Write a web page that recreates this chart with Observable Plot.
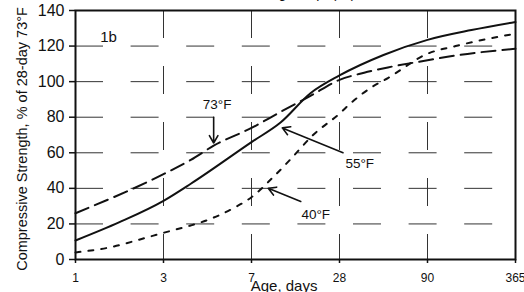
<!DOCTYPE html>
<html><head><meta charset="utf-8">
<script src="https://cdn.jsdelivr.net/npm/d3@7"></script>
<script src="https://cdn.jsdelivr.net/npm/@observablehq/plot@0.6"></script>
<style>
body{margin:0;background:#fff;}
#chart svg{font-family:Arial,"Liberation Sans",sans-serif;color:#111;}
</style>
</head><body><div id="chart"></div>
<script>
// Age axis: categories are evenly spaced; positions are indices along that axis
const ageLabels = ["1","3","7","28","90","365"];
const agePos = [0,1,2,3,4,5];
const strengthTicks = [0,20,40,60,80,100,120,140];
const gridY = [20,40,60,80,100,120];
const gridX = [1,2,3,4];

// 73°F (long dashes)
const pos73 = [0, 1, 1.31, 1.57, 2, 2.33, 2.67, 3, 3.28, 3.55, 4, 4.32, 5];
const val73 = [26, 48, 56, 64, 74, 83, 92, 101, 105, 108, 112, 114.7, 118.5];
// 55°F (solid)
const pos55 = [0, 0.5, 1, 1.31, 2, 2.33, 2.67, 3, 3.5, 4, 4.5, 5];
const val55 = [10.7, 21, 33, 42.6, 66, 77, 93.5, 103.5, 115, 123.5, 129, 133.5];
// 40°F (short dashes)
const pos40 = [0, 0.4, 0.77, 1, 1.3, 1.42, 1.8, 2, 2.23, 2.45, 2.7, 3, 3.13, 3.36, 3.55, 4, 4.32, 5];
const val40 = [4, 6.9, 11.8, 15, 19, 20.8, 29, 35, 45.5, 56.7, 70, 82, 88, 96.7, 102, 115.7, 120, 127];

const seriesLabels = ["73°F","55°F","40°F"];
const labelPos = [1.61, 3.23, 2.73];
const labelVal = [87, 54, 25];
const arrowFromPos = [1.57, 3.04, 2.56];
const arrowFromVal = [80, 60, 32.6];
const arrowToPos = [1.57, 2.35, 2.19];
const arrowToVal = [65.5, 74, 40];

const panelLabel = "1b";
const panelPos = 0.375;
const panelVal = 125;

const titleText = "Curing Temp, (°F)";
const xTitle = "Age, days";
const yTitle = "Compressive Strength, % of 28-day 73°F";

const toRows = (p, v) => p.map((x, i) => ({x, y: v[i]}));
const arrows = seriesLabels.map((s, i) => ({x1: arrowFromPos[i], y1: arrowFromVal[i], x2: arrowToPos[i], y2: arrowToVal[i]}));

const chart = Plot.plot({
  width: 524, height: 292,
  marginTop: 10, marginLeft: 75, marginRight: 9, marginBottom: 33,
  x: {type: "linear", domain: [0, 5]},
  y: {domain: [0, 140]},
  marks: [
    Plot.ruleY(gridY, {stroke: "#333", strokeWidth: 1, strokeDasharray: "28,27.6"}),
    Plot.ruleX(gridX, {stroke: "#333", strokeWidth: 1, strokeDasharray: "28,28"}),
    Plot.line(toRows(pos73, val73), {x: "x", y: "y", curve: "monotone-x", stroke: "#111", strokeWidth: 2, strokeDasharray: "14,7"}),
    Plot.line(toRows(pos55, val55), {x: "x", y: "y", curve: "monotone-x", stroke: "#111", strokeWidth: 2}),
    Plot.line(toRows(pos40, val40), {x: "x", y: "y", curve: "monotone-x", stroke: "#111", strokeWidth: 2, strokeDasharray: "5,8"}),
    Plot.arrow(arrows, {x1: "x1", y1: "y1", x2: "x2", y2: "y2", stroke: "#111", strokeWidth: 1.6, headLength: 8}),
    Plot.text(seriesLabels, {x: labelPos, y: labelVal, fontSize: 13.5, fill: "#111"}),
    Plot.text([panelLabel], {x: [panelPos], y: [panelVal], fontSize: 15, fill: "#111"}),
    Plot.axisY(strengthTicks, {tickSize: 6, tickPadding: 5, fontSize: 16, label: null, strokeWidth: 1.5}),
    Plot.axisX(agePos, {tickFormat: i => ageLabels[i], tickSize: 4, tickPadding: 10, fontSize: 12, label: null, strokeWidth: 1.5}),
    Plot.frame({stroke: "#111", strokeWidth: 2}),
    Plot.text([yTitle], {frameAnchor: "left", textAnchor: "middle", rotate: -90, dx: -53, dy: 4, fontSize: 14.5, fill: "#111"}),
    Plot.text([xTitle], {x: [2.37], frameAnchor: "bottom", dy: 31, lineAnchor: "bottom", fontSize: 15, fill: "#111"}),
    Plot.text([titleText], {x: [3.18], frameAnchor: "top", dy: -13, lineAnchor: "bottom", textAnchor: "end", fontSize: 14, fill: "#111"})
  ]
});
document.getElementById("chart").appendChild(chart);
</script>
</body></html>
